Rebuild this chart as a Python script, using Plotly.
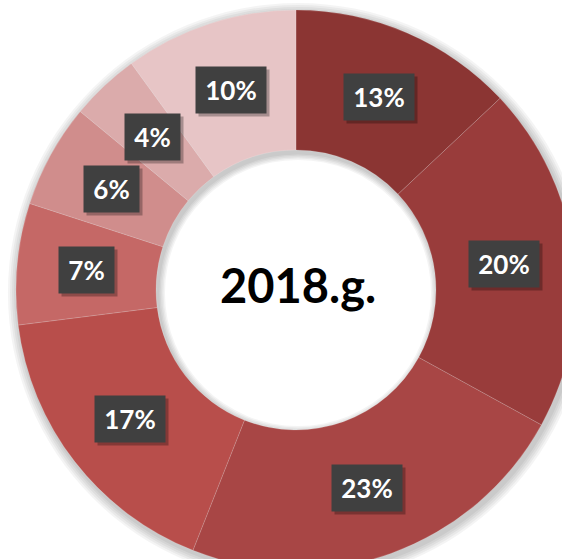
import math
import plotly.graph_objects as go

# ---- data ----
categories = ["A", "B", "C", "D", "E", "F", "G", "H"]
values = [13, 20, 23, 17, 7, 6, 4, 10]
labels_text = ["13%", "20%", "23%", "17%", "7%", "6%", "4%", "10%"]
colors = ["#8B3533", "#993C3B", "#A84645", "#B84E4B",
          "#C56866", "#D08D8C", "#DBABAB", "#E7C5C6"]
center_title = "2018.g."

# ---- geometry (pixels) ----
W, H = 600, 600
CX, CY = 296, 290          # donut centre from top-left
R_OUT, R_IN = 280, 140
R_LBL = (R_OUT + R_IN) / 2


def dom(cx, cy, ro):
    return dict(x=[(cx - ro) / W, (cx + ro) / W],
                y=[(H - cy - ro) / H, (H - cy + ro) / H])


fig = go.Figure()

# soft shadow rings behind the donut
for k in [2, 4, 6, 8, 10]:
    ro = R_OUT + k
    ri = R_IN - k * 0.7
    fig.add_trace(go.Pie(
        values=[1], marker=dict(colors=["rgba(0,0,0,0.045)"], line=dict(width=0)),
        hole=ri / ro, domain=dom(CX + 2, CY + 3, ro), textinfo="none",
        hoverinfo="skip", showlegend=False, sort=False))

fig.add_trace(go.Pie(
    labels=categories, values=values, hole=R_IN / R_OUT,
    marker=dict(colors=colors, line=dict(color="rgba(255,255,255,0.25)", width=0.6)),
    sort=False, direction="clockwise", rotation=0,
    textinfo="none", hoverinfo="label+percent", showlegend=False,
    domain=dom(CX, CY, R_OUT)))

total = sum(values)
cum = 0
annotations = []
for v, t in zip(values, labels_text):
    th = 2 * math.pi * (cum + v / 2) / total
    cum += v
    xp = CX + R_LBL * math.sin(th)
    yp = CY - R_LBL * math.cos(th)
    w = 70 if len(t) > 2 else 55
    # label shadow
    annotations.append(dict(
        x=(xp + 3) / W, y=1 - (yp + 3) / H, xref="paper", yref="paper",
        text=" ", showarrow=False, width=w, height=46, borderpad=0,
        bgcolor="rgba(0,0,0,0.28)", xanchor="center", yanchor="middle"))
    annotations.append(dict(
        x=xp / W, y=1 - yp / H, xref="paper", yref="paper",
        text=f"<b>{t}</b>", showarrow=False, width=w, height=46, borderpad=0,
        bgcolor="#404040", font=dict(family="Lato", size=26, color="white"),
        xanchor="center", yanchor="middle"))

annotations.append(dict(
    x=(CX + 2) / W, y=1 - (CY - 5) / H, xref="paper", yref="paper",
    text=f"<b>{center_title}</b>", showarrow=False,
    font=dict(family="Lato", size=47, color="black"),
    xanchor="center", yanchor="middle"))

fig.update_layout(
    width=W, height=H, margin=dict(l=0, r=0, t=0, b=0),
    paper_bgcolor="white", plot_bgcolor="white",
    annotations=annotations, showlegend=False)

post = """
document.documentElement.style.overflow='hidden';
document.body.style.margin='0';
document.body.style.overflow='hidden';
document.body.style.width='562px';
document.body.style.height='559px';
"""
fig.write_html("out.html", post_script=post, config={"displayModeBar": False})
